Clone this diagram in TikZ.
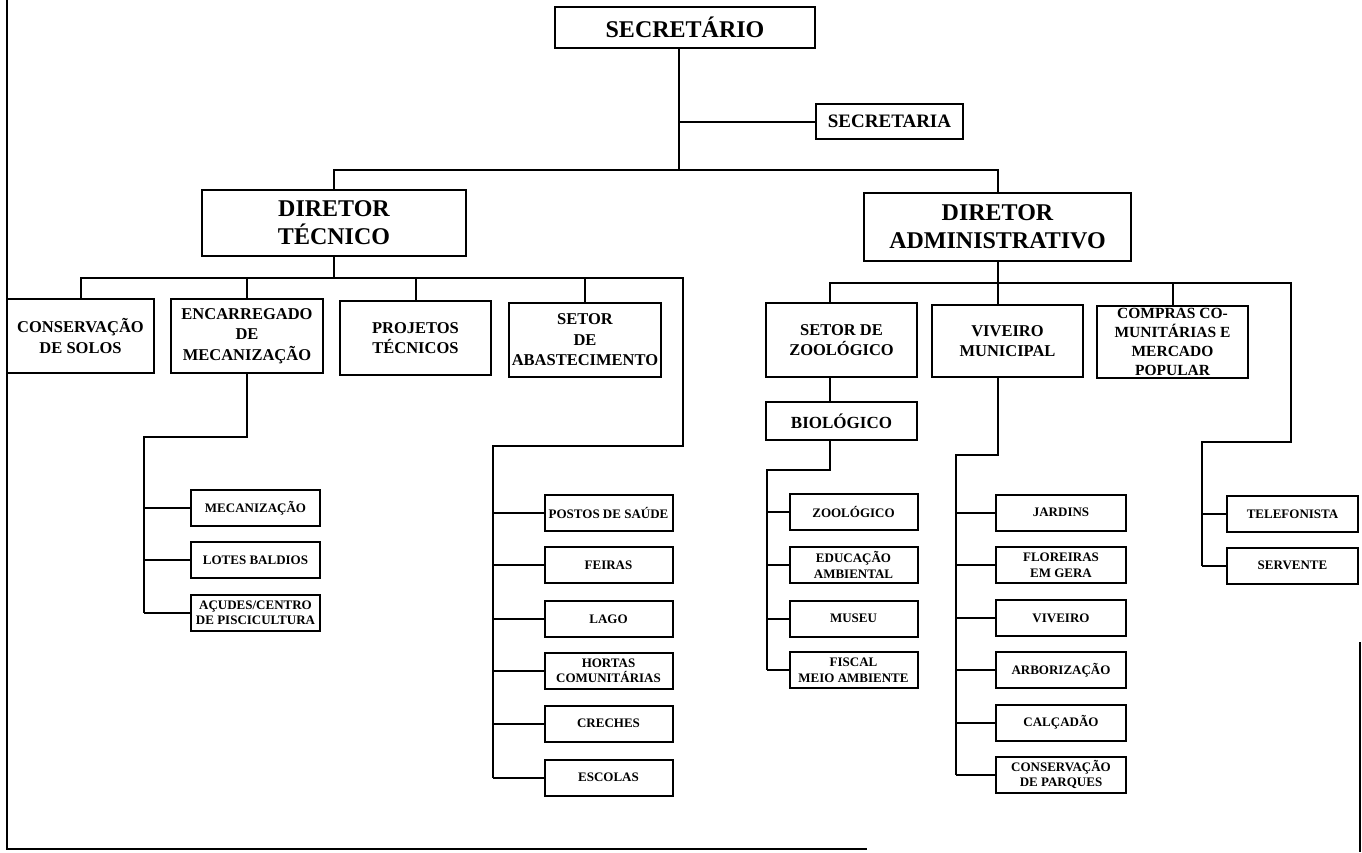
\documentclass[tikz,border=0pt]{standalone}
\usepackage{fontspec}
\setmainfont{Liberation Serif}

\tikzset{
chiefbox/.style={draw, line width=2pt, inner sep=0pt, align=center,
  font=\bfseries\fontsize{24}{28}\selectfont},
unitbox/.style={draw, line width=2pt, inner sep=0pt, align=center,
  font=\bfseries\fontsize{16.5}{20.5}\selectfont},
taskbox/.style={draw, line width=2pt, inner sep=0pt, align=center,
  minimum width=128pt, minimum height=36pt,
  font=\bfseries\fontsize{13}{15.5}\selectfont},
link/.style={line width=2pt}
}

\begin{document}
\begin{tikzpicture}[x=1pt,y=-1pt]

\useasboundingbox (0,0) rectangle (1362,852);

%%%%%%%%%%%%%%%%%%%%%%%%%%%%%%%%%%%%%%%%%%%%%%%%%%%%%%%%%%
% PAGE FRAME
%%%%%%%%%%%%%%%%%%%%%%%%%%%%%%%%%%%%%%%%%%%%%%%%%%%%%%%%%%

\draw[link] (7,0) -- (7,849) -- (867,849);
\draw[link] (1360,642) -- (1360,852);

%%%%%%%%%%%%%%%%%%%%%%%%%%%%%%%%%%%%%%%%%%%%%%%%%%%%%%%%%%
% TOP
%%%%%%%%%%%%%%%%%%%%%%%%%%%%%%%%%%%%%%%%%%%%%%%%%%%%%%%%%%

\node[
chiefbox,
minimum width=260pt,
minimum height=41pt
](sec)
at (685,27.5)
{SECRETÁRIO};

\node[
chiefbox,
font=\bfseries\fontsize{19}{22}\selectfont,
minimum width=147pt,
minimum height=35pt
](secr)
at (889.5,121.5)
{SECRETARIA};

\node[
chiefbox,
minimum width=264pt,
minimum height=66pt
](dt)
at (334,223)
{DIRETOR\\TÉCNICO};

\node[
chiefbox,
minimum width=267pt,
minimum height=68pt
](da)
at (997.5,227)
{DIRETOR\\ADMINISTRATIVO};

%%%%%%%%%%%%%%%%%%%%%%%%%%%%%%%%%%%%%%%%%%%%%%%%%%%%%%%%%%
% DIRETOR TECNICO UNITS
%%%%%%%%%%%%%%%%%%%%%%%%%%%%%%%%%%%%%%%%%%%%%%%%%%%%%%%%%%

\node[
unitbox,
minimum width=147pt,
minimum height=74pt
](cons)
at (80.5,336)
{CONSERVAÇÃO\\DE SOLOS};

\node[
unitbox,
minimum width=152pt,
minimum height=74pt
](enc)
at (247,336)
{ENCARREGADO\\DE\\MECANIZAÇÃO};

\node[
unitbox,
minimum width=151pt,
minimum height=74pt
](proj)
at (415.5,338)
{PROJETOS\\TÉCNICOS};

\node[
unitbox,
minimum width=152pt,
minimum height=74pt
](abast)
at (585,340)
{SETOR\\DE\\ABASTECIMENTO};

%%%%%%%%%%%%%%%%%%%%%%%%%%%%%%%%%%%%%%%%%%%%%%%%%%%%%%%%%%
% DIRETOR ADMINISTRATIVO UNITS
%%%%%%%%%%%%%%%%%%%%%%%%%%%%%%%%%%%%%%%%%%%%%%%%%%%%%%%%%%

\node[
unitbox,
minimum width=151pt,
minimum height=74pt
](setzoo)
at (841.5,340)
{SETOR DE\\ZOOLÓGICO};

\node[
unitbox,
minimum width=151pt,
minimum height=72pt
](viv)
at (1007.5,341)
{VIVEIRO\\MUNICIPAL};

\node[
unitbox,
font=\bfseries\fontsize{15.5}{19}\selectfont,
minimum width=151pt,
minimum height=72pt
](comp)
at (1172.5,342)
{COMPRAS CO-\\MUNITÁRIAS E\\MERCADO\\POPULAR};

\node[
unitbox,
font=\bfseries\fontsize{17}{20}\selectfont,
minimum width=151pt,
minimum height=38pt
](bio)
at (841.5,421)
{BIOLÓGICO};

%%%%%%%%%%%%%%%%%%%%%%%%%%%%%%%%%%%%%%%%%%%%%%%%%%%%%%%%%%
% MECANIZACAO TASKS
%%%%%%%%%%%%%%%%%%%%%%%%%%%%%%%%%%%%%%%%%%%%%%%%%%%%%%%%%%

\node[taskbox,minimum width=129pt](mec) at (255.5,508) {MECANIZAÇÃO};
\node[taskbox,minimum width=129pt](lotes) at (255.5,560) {LOTES BALDIOS};
\node[taskbox,minimum width=129pt](acud) at (255.5,612.5) {AÇUDES/CENTRO\\DE PISCICULTURA};

%%%%%%%%%%%%%%%%%%%%%%%%%%%%%%%%%%%%%%%%%%%%%%%%%%%%%%%%%%
% ABASTECIMENTO TASKS
%%%%%%%%%%%%%%%%%%%%%%%%%%%%%%%%%%%%%%%%%%%%%%%%%%%%%%%%%%

\node[taskbox](postos) at (608.5,512.5) {POSTOS DE SAÚDE};
\node[taskbox](feiras) at (608.5,565) {FEIRAS};
\node[taskbox](lago) at (608.5,619) {LAGO};
\node[taskbox](hortas) at (608.5,670.5) {HORTAS\\COMUNITÁRIAS};
\node[taskbox](creches) at (608.5,723.5) {CRECHES};
\node[taskbox](escolas) at (608.5,777.5) {ESCOLAS};

%%%%%%%%%%%%%%%%%%%%%%%%%%%%%%%%%%%%%%%%%%%%%%%%%%%%%%%%%%
% ZOOLOGICO TASKS
%%%%%%%%%%%%%%%%%%%%%%%%%%%%%%%%%%%%%%%%%%%%%%%%%%%%%%%%%%

\node[taskbox](zoo) at (853.5,512) {ZOOLÓGICO};
\node[taskbox](edu) at (853.5,565) {EDUCAÇÃO\\AMBIENTAL};
\node[taskbox](museu) at (853.5,618.5) {MUSEU};
\node[taskbox](fiscal) at (853.5,670) {FISCAL\\MEIO AMBIENTE};

%%%%%%%%%%%%%%%%%%%%%%%%%%%%%%%%%%%%%%%%%%%%%%%%%%%%%%%%%%
% VIVEIRO TASKS
%%%%%%%%%%%%%%%%%%%%%%%%%%%%%%%%%%%%%%%%%%%%%%%%%%%%%%%%%%

\node[taskbox,minimum width=130pt](jard) at (1061,512.5) {JARDINS};
\node[taskbox,minimum width=130pt](flor) at (1061,565) {FLOREIRAS\\EM GERA};
\node[taskbox,minimum width=130pt](vivr) at (1061,618) {VIVEIRO};
\node[taskbox,minimum width=130pt](arbo) at (1061,670) {ARBORIZAÇÃO};
\node[taskbox,minimum width=130pt](calc) at (1061,722.5) {CALÇADÃO};
\node[taskbox,minimum width=130pt](cparq) at (1061,774.5) {CONSERVAÇÃO\\DE PARQUES};

%%%%%%%%%%%%%%%%%%%%%%%%%%%%%%%%%%%%%%%%%%%%%%%%%%%%%%%%%%
% COMPRAS STAFF
%%%%%%%%%%%%%%%%%%%%%%%%%%%%%%%%%%%%%%%%%%%%%%%%%%%%%%%%%%

\node[taskbox,minimum width=131pt](tel) at (1292.5,514) {TELEFONISTA};
\node[taskbox,minimum width=131pt](serv) at (1292.5,565.5) {SERVENTE};

%%%%%%%%%%%%%%%%%%%%%%%%%%%%%%%%%%%%%%%%%%%%%%%%%%%%%%%%%%
% CONNECTIONS
%%%%%%%%%%%%%%%%%%%%%%%%%%%%%%%%%%%%%%%%%%%%%%%%%%%%%%%%%%

\coordinate (topbus) at (0,170);
\coordinate (dtbus) at (0,278);
\coordinate (dabus) at (0,283);
\coordinate (secx) at (679,48);
\coordinate (zoox) at (830,0);
\coordinate (mecl) at (144,437);
\coordinate (abr) at (683,446);
\coordinate (abl) at (493,446);
\coordinate (zool) at (767,470);
\coordinate (vivl) at (956,455);
\coordinate (telr) at (1291,442);
\coordinate (tell) at (1202,442);

\draw[link] (secx |- sec.south) -- (secx |- topbus);
\draw[link] (secx |- secr.west) -- (secr.west);
\draw[link] (dt.north) |- (da.north |- topbus) -- (da.north);

\draw[link] (dt.south) -- (dt.south |- dtbus);
\draw[link] (cons.north) |- (abr |- dtbus) -- (abr) -- (abl) -- (abl |- escolas.west);
\draw[link] (enc.north) -- (enc.north |- dtbus);
\draw[link] (proj.north) -- (proj.north |- dtbus);
\draw[link] (abast.north) -- (abast.north |- dtbus);

\draw[link] (enc.south) |- (mecl) -- (mecl |- acud.west);
\draw[link] (mecl |- mec.west) -- (mec.west);
\draw[link] (mecl |- lotes.west) -- (lotes.west);
\draw[link] (mecl |- acud.west) -- (acud.west);

\draw[link] (abl |- postos.west) -- (postos.west);
\draw[link] (abl |- feiras.west) -- (feiras.west);
\draw[link] (abl |- lago.west) -- (lago.west);
\draw[link] (abl |- hortas.west) -- (hortas.west);
\draw[link] (abl |- creches.west) -- (creches.west);
\draw[link] (abl |- escolas.west) -- (escolas.west);

\draw[link] (da.south) -- (da.south |- viv.north);
\draw[link] (zoox |- setzoo.north) |- (telr |- dabus) -- (telr) -- (tell) -- (tell |- serv.west);
\draw[link] (comp.north) -- (comp.north |- dabus);

\draw[link] (zoox |- setzoo.south) -- (zoox |- bio.north);
\draw[link] (zoox |- bio.south) |- (zool) -- (zool |- fiscal.west);
\draw[link] (zool |- zoo.west) -- (zoo.west);
\draw[link] (zool |- edu.west) -- (edu.west);
\draw[link] (zool |- museu.west) -- (museu.west);
\draw[link] (zool |- fiscal.west) -- (fiscal.west);

\draw[link] ([xshift=-10pt]viv.south) |- (vivl) -- (vivl |- cparq.west);
\draw[link] (vivl |- jard.west) -- (jard.west);
\draw[link] (vivl |- flor.west) -- (flor.west);
\draw[link] (vivl |- vivr.west) -- (vivr.west);
\draw[link] (vivl |- arbo.west) -- (arbo.west);
\draw[link] (vivl |- calc.west) -- (calc.west);
\draw[link] (vivl |- cparq.west) -- (cparq.west);

\draw[link] (tell |- tel.west) -- (tel.west);
\draw[link] (tell |- serv.west) -- (serv.west);

\end{tikzpicture}
\end{document}
